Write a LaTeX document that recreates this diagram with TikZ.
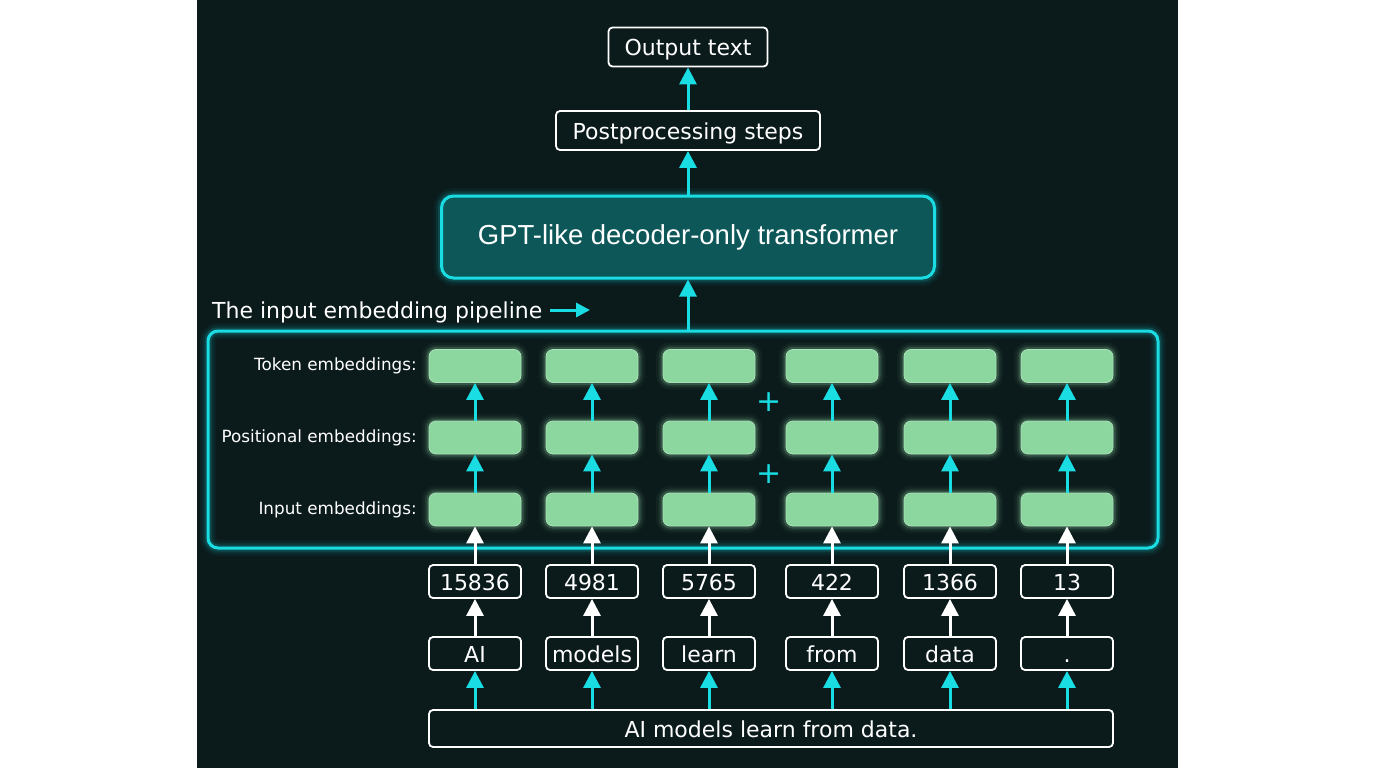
\documentclass[tikz,border=0pt]{standalone}
\usepackage{fontspec}
\setmainfont{DejaVu Sans}
\newfontfamily\arialf{Liberation Sans}
\usetikzlibrary{arrows.meta}
\definecolor{bgdark}{HTML}{0B1A1B}
\definecolor{cyanc}{HTML}{19DDE3}
\definecolor{gptfill}{HTML}{0D5759}
\definecolor{greenf}{HTML}{8CD7A0}
\definecolor{greeng}{HTML}{9BE8B0}
\tikzset{
  wbox/.style={draw=white, line width=1.8pt, rounded corners=4pt, fill=bgdark, text=white,
    font=\fontsize{22}{24}\selectfont, inner sep=0pt, text height=17pt, text depth=0pt},
  cglow/.style={preaction={draw=cyanc, line width=16pt, opacity=0.05},
    preaction={draw=cyanc, line width=11pt, opacity=0.08},
    preaction={draw=cyanc, line width=7pt, opacity=0.15}},
  gglow/.style={preaction={draw=greeng, line width=14pt, opacity=0.05},
    preaction={draw=greeng, line width=9pt, opacity=0.09},
    preaction={draw=greeng, line width=5pt, opacity=0.18}},
  gptbox/.style={cglow, draw=cyanc, line width=3pt, rounded corners=12pt, fill=gptfill,
    text=white, font=\arialf\fontsize{27.5}{30}\selectfont, minimum width=493pt, minimum height=82pt},
  pipebox/.style={cglow, draw=cyanc, line width=3pt, rounded corners=10pt},
  gbox/.style={gglow, draw=greenf!75!white, line width=0.8pt, fill=greenf, rounded corners=7pt,
    minimum width=92pt, minimum height=33pt, inner sep=0pt},
  idbox/.style={wbox, minimum width=92pt, minimum height=33pt},
  lbl/.style={anchor=east, inner sep=0pt, text=white, font=\fontsize{16.8}{19}\selectfont},
  carrow/.style={draw=cyanc, line width=3pt, -{Triangle[width=17pt,length=17pt]}},
  warrow/.style={draw=white, line width=3pt, -{Triangle[width=17pt,length=17pt]}},
  plus/.style={text=cyanc, font=\fontsize{30}{32}\selectfont}
}
\begin{document}
\begin{tikzpicture}[x=1pt,y=-1pt]
\useasboundingbox (0,0) rectangle (1376,768);
\fill[white] (0,0) rectangle (1376,768);
\fill[bgdark] (197,0) rectangle (1178,768);

% top
\node[wbox, minimum width=159pt, minimum height=39pt] (out) at (688,47) {Output text};
\node[wbox, minimum width=264pt, minimum height=39pt] (post) at (688,130.5) {Postprocessing steps};
\node[gptbox] (gpt) at (688,237) {GPT-like decoder-only transformer};
\draw[carrow] (post.north) -- (out.south);
\draw[carrow] (gpt.north) -- (post.south);

% pipeline
\node[pipebox, minimum width=950pt, minimum height=217pt] (pipe) at (683,439.5) {};
\node[anchor=base west, text=white, font=\fontsize{22}{24}\selectfont, inner sep=0pt] (plabel) at (212,318) {The input embedding pipeline};
\coordinate (pa1) at (550,310);
\coordinate (pa2) at (590,310);
\draw[draw=cyanc, line width=3pt, -{Triangle[width=14pt,length=14pt]}] (pa1) -- (pa2);
\draw[carrow] (gpt.south |- pipe.north) -- (gpt.south);

\node[lbl] (lt) at (417,366) {Token embeddings:};
\node[lbl] (lp) at (417,437.5) {Positional embeddings:};
\node[lbl] (li) at (417,509.5) {Input embeddings:};

\node[plus] (plus1) at (769,402) {+};
\node[plus] (plus2) at (769,474) {+};

% sentence
\node[wbox, minimum width=684pt, minimum height=37pt] (sent) at (771,728.5) {AI models learn from data.};

\foreach \i/\x/\id/\w in {1/475/15836/AI, 2/592/4981/models, 3/709/5765/learn, 4/832/422/from, 5/950/1366/data, 6/1067/13/.}{
  \node[gbox] (t\i) at (\x,366) {};
  \node[gbox] (p\i) at (\x,437.5) {};
  \node[gbox] (e\i) at (\x,509.5) {};
  \node[idbox] (id\i) at (\x,581.5) {\id};
  \node[idbox] (w\i) at (\x,653.5) {\w};
  \draw[carrow] (p\i.north) -- (t\i.south);
  \draw[carrow] (e\i.north) -- (p\i.south);
  \draw[warrow] (id\i.north) -- (e\i.south);
  \draw[warrow] (w\i.north) -- (id\i.south);
  \draw[carrow] (sent.north -| w\i.south) -- (w\i.south);
}
\end{tikzpicture}
\end{document}
